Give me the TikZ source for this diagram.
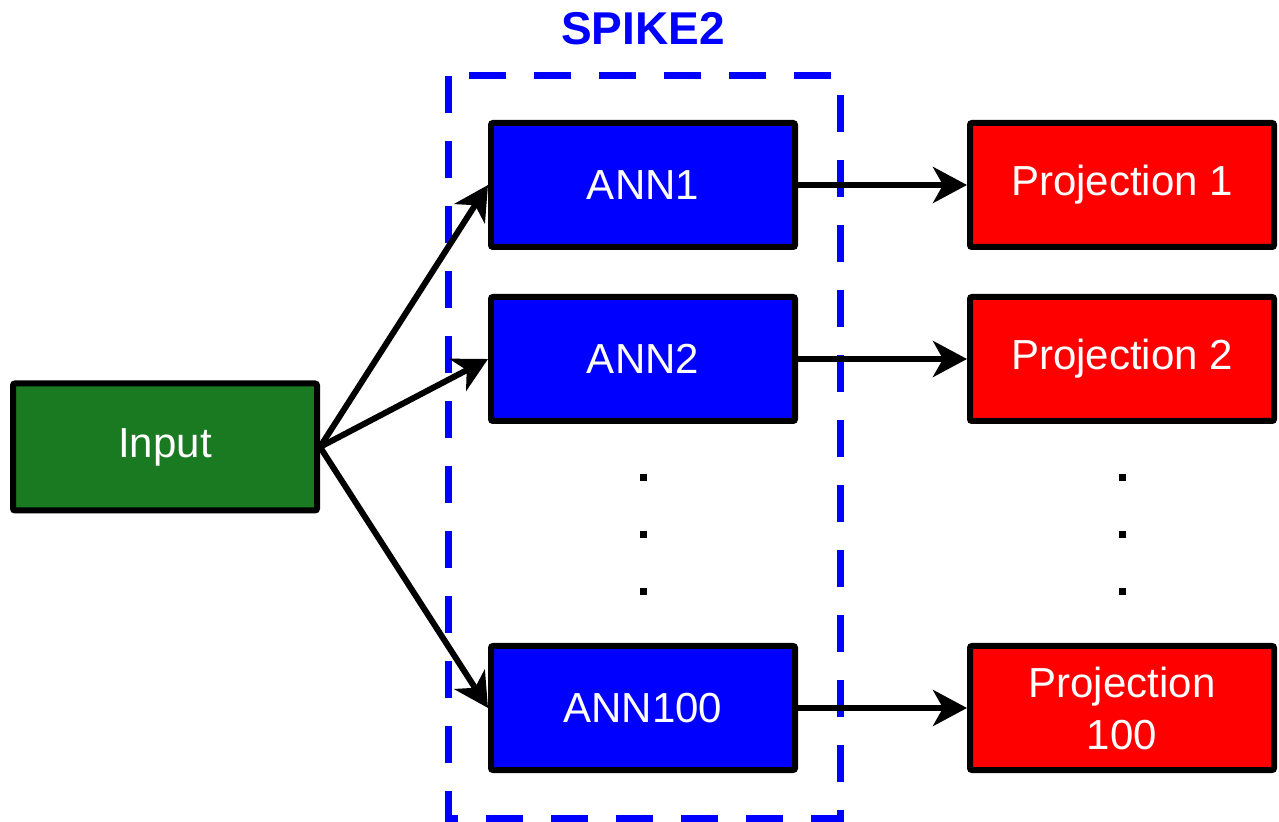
\documentclass[tikz,border=0pt]{standalone}
\usepackage{fontspec}
\setmainfont{Liberation Sans}
\usetikzlibrary{arrows.meta}
\definecolor{inputgreen}{RGB}{26,122,34}
\tikzset{
  block/.style={draw=black, line width=3pt, minimum width=152pt, minimum height=62pt,
    text=white, font=\fontsize{21}{26}\selectfont, align=center, rounded corners=1pt},
  link/.style={line width=3pt, -{Stealth[length=17pt,width=18pt,inset=5pt]}},
  vdot/.style={rectangle, fill=black, inner sep=0pt, minimum size=3.5pt}
}
\begin{document}
\begin{tikzpicture}[x=0.5pt,y=-0.5pt]
    \useasboundingbox (0,0) rectangle (1279,822);
    \draw[blue, line width=3.5pt, dash pattern=on 18.5pt off 14pt] (448,76) rectangle (840,818);
    \node[font=\bfseries\fontsize{23}{28}\selectfont, text=blue] (title) at (643,29) {SPIKE2};
    \node[block, fill=inputgreen, minimum height=63.5pt] (in) at (165,447) {Input};
    \node[block, fill=blue] (a1) at (643,185) {ANN1};
    \node[block, fill=blue] (a2) at (643,359) {ANN2};
    \node[block, fill=blue] (a100) at (643,708) {ANN100};
    \node[block, fill=red] (p1) at (1122,185) {Projection 1};
    \node[block, fill=red] (p2) at (1122,359) {Projection 2};
    \node[block, fill=red] (p100) at (1122,708) {Projection\\100};
    \foreach \y [count=\i] in {478,535,592} {
      \node[vdot] (ad\i) at (643,\y) {};
      \node[vdot] (pd\i) at (1122,\y) {};
    }
    \draw[link] (in.east) -- (a1.west);
    \draw[link] (in.east) -- (a2.west);
    \draw[link] (in.east) -- (a100.west);
    \draw[link] (a1.east) -- (p1.west);
    \draw[link] (a2.east) -- (p2.west);
    \draw[link] (a100.east) -- (p100.west);
\end{tikzpicture}
\end{document}
